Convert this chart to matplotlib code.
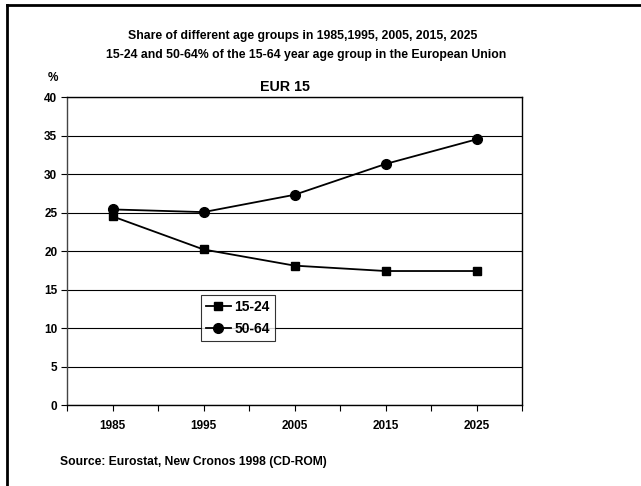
import numpy as np
import matplotlib.pyplot as plt
from matplotlib.lines import Line2D

plt.rcParams['font.family'] = ['Liberation Sans', 'DejaVu Sans']
plt.rcParams['font.weight'] = 'bold'

# data
years = [1985, 1995, 2005, 2015, 2025]
age_15_24 = [24.5, 20.2, 18.1, 17.4, 17.4]
age_50_64 = [25.4, 25.05, 27.3, 31.3, 34.5]
y_ticks = [0, 5, 10, 15, 20, 25, 30, 35, 40]

fig = plt.figure(figsize=(6.41, 4.86), dpi=100)
W, H = 641, 486

# frame round the figure (top and left)
fig.add_artist(Line2D([6.5 / W, 6.5 / W], [0, 1 - 5 / H], color='black', lw=2,
                      transform=fig.transFigure))
fig.add_artist(Line2D([6.5 / W, 1], [1 - 5 / H, 1 - 5 / H], color='black', lw=2,
                      transform=fig.transFigure))

ax = fig.add_axes([67 / W, 1 - 405 / H, (522 - 67) / W, (405 - 97) / H])

ax.plot(years, age_15_24, color='black', lw=1.3, marker='s', ms=5.5,
        label='15-24', clip_on=False)
ax.plot(years, age_50_64, color='black', lw=1.3, marker='o', ms=7,
        label='50-64', clip_on=False)

ax.set_xlim(1980, 2030)
ax.set_ylim(0, 40)
ax.set_yticks(y_ticks)
ax.set_xticks(np.arange(1980, 2031, 5))
ax.set_xticklabels(['' if y not in years else str(y) for y in range(1980, 2031, 5)])
ax.tick_params(axis='x', length=4, width=0.8, labelsize=8.5, pad=7)
ax.tick_params(axis='y', length=4, width=0.8, labelsize=8.5, pad=3)
ax.grid(axis='y', color='black', lw=0.8)
ax.set_axisbelow(True)
for s in ax.spines.values():
    s.set_linewidth(1)
    s.set_color('black')
ax.spines['left'].set_color('#444444')

leg = ax.legend(loc='upper left', bbox_to_anchor=((201 - 67) / 455, (405 - 295) / 308),
                frameon=True, fancybox=False, edgecolor='black', fontsize=10,
                handlelength=1.8, handletextpad=0.25, borderpad=0.35, labelspacing=0.6,
                borderaxespad=0)
leg.get_frame().set_linewidth(0.8)

fig.text(303 / W, 1 - 36 / H, 'Share of different age groups in 1985,1995, 2005, 2015, 2025',
         ha='center', va='center', fontsize=8.8)
fig.text(306 / W, 1 - 55 / H, '15-24 and 50-64% of the 15-64 year age group in the European Union',
         ha='center', va='center', fontsize=8.8)
fig.text(285 / W, 1 - 87 / H, 'EUR 15', ha='center', va='center', fontsize=10.3)
fig.text(53 / W, 1 - 78 / H, '%', ha='center', va='center', fontsize=8.5)
fig.text(60 / W, 1 - 462 / H, 'Source: Eurostat, New Cronos 1998 (CD-ROM)',
         ha='left', va='center', fontsize=8.7)

fig.savefig('out.png', dpi=100)
